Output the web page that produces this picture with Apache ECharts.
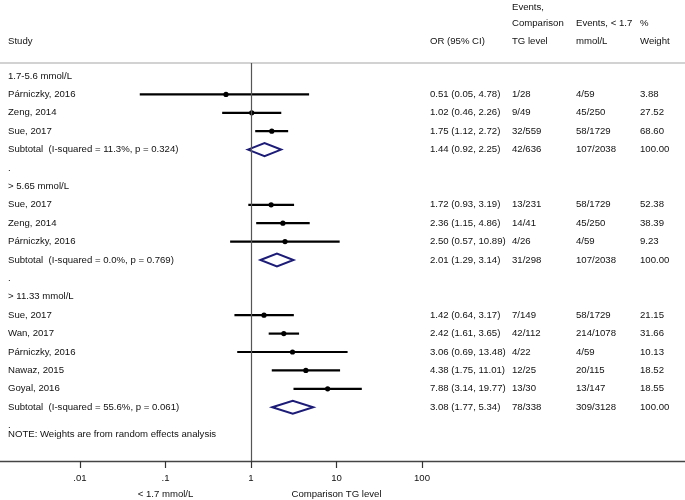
<!DOCTYPE html>
<html>
<head>
<meta charset="utf-8">
<script src="https://cdn.jsdelivr.net/npm/echarts@6/dist/echarts.min.js"></script>
<style>
  html, body { margin: 0; padding: 0; background: #fff; }
  #main { width: 685px; height: 500px; }
</style>
</head>
<body>
<div id="main"></div>
<script>
// subgroups
const groupLabels = ['1.7-5.6 mmol/L', '> 5.65 mmol/L', '> 11.33 mmol/L'];

// individual studies
const studyNames = ['Párniczky, 2016', 'Zeng, 2014', 'Sue, 2017',
                    'Sue, 2017', 'Zeng, 2014', 'Párniczky, 2016',
                    'Sue, 2017', 'Wan, 2017', 'Párniczky, 2016', 'Nawaz, 2015', 'Goyal, 2016'];
const studyGroup = [0, 0, 0, 1, 1, 1, 2, 2, 2, 2, 2];
const studyOR = [0.51, 1.02, 1.75, 1.72, 2.36, 2.50, 1.42, 2.42, 3.06, 4.38, 7.88];
const studyLo = [0.05, 0.46, 1.12, 0.93, 1.15, 0.57, 0.64, 1.61, 0.69, 1.75, 3.14];
const studyHi = [4.78, 2.26, 2.72, 3.19, 4.86, 10.89, 3.17, 3.65, 13.48, 11.01, 19.77];
const eventsComp = ['1/28', '9/49', '32/559', '13/231', '14/41', '4/26', '7/149', '42/112', '4/22', '12/25', '13/30'];
const eventsRef = ['4/59', '45/250', '58/1729', '58/1729', '45/250', '4/59', '58/1729', '214/1078', '4/59', '20/115', '13/147'];
const weights = ['3.88', '27.52', '68.60', '52.38', '38.39', '9.23', '21.15', '31.66', '10.13', '18.52', '18.55'];

// subtotals
const subLabels = ['Subtotal  (I-squared = 11.3%, p = 0.324)',
                   'Subtotal  (I-squared = 0.0%, p = 0.769)',
                   'Subtotal  (I-squared = 55.6%, p = 0.061)'];
const subOR = [1.44, 2.01, 3.08];
const subLo = [0.92, 1.29, 1.77];
const subHi = [2.25, 3.14, 5.34];
const subComp = ['42/636', '31/298', '78/338'];
const subRef = ['107/2038', '107/2038', '309/3128'];
const subWeight = ['100.00', '100.00', '100.00'];

// x axis
const tickValues = [0.01, 0.1, 1, 10, 100];
const tickLabels = ['.01', '.1', '1', '10', '100'];
const xTitles = ['< 1.7 mmol/L', 'Comparison TG level'];
const xTitleAt = [0.1, 10];

const headerLines = [
  ['', '', 'Events,', '', ''],
  ['', '', 'Comparison', 'Events, < 1.7', '%'],
  ['Study', 'OR (95% CI)', 'TG level', 'mmol/L', 'Weight']
];
const note = 'NOTE: Weights are from random effects analysis';

// layout (pixels)
const rowTop = 76, pitch = 18.4, plotTop = 63, plotBottom = 461;
const colX = [8, 430, 512, 576, 640];
const headerRows = [-3.72, -2.86, -1.9];
const font = 'Liberation Sans, Arial, sans-serif';
const fs = 9.6;
const ink = '#111';

function fmtCI(o, l, h) {
  return o.toFixed(2) + ' (' + l.toFixed(2) + ', ' + h.toFixed(2) + ')';
}

// build rows
let marks = [];   // [or, lo, hi, row, isSubtotal]
let texts = [];   // [x, row, text]
let row = 0;
for (let g = 0; g < groupLabels.length; g++) {
  texts.push([colX[0], row, groupLabels[g]]);
  row++;
  for (let i = 0; i < studyNames.length; i++) {
    if (studyGroup[i] !== g) continue;
    marks.push([studyOR[i], studyLo[i], studyHi[i], row, 0]);
    texts.push([colX[0], row, studyNames[i]]);
    texts.push([colX[1], row, fmtCI(studyOR[i], studyLo[i], studyHi[i])]);
    texts.push([colX[2], row, eventsComp[i]]);
    texts.push([colX[3], row, eventsRef[i]]);
    texts.push([colX[4], row, weights[i]]);
    row++;
  }
  marks.push([subOR[g], subLo[g], subHi[g], row, 1]);
  texts.push([colX[0], row, subLabels[g]]);
  texts.push([colX[1], row, fmtCI(subOR[g], subLo[g], subHi[g])]);
  texts.push([colX[2], row, subComp[g]]);
  texts.push([colX[3], row, subRef[g]]);
  texts.push([colX[4], row, subWeight[g]]);
  row++;
  texts.push([colX[0], row, '.']);
  row++;
}
texts.push([colX[0], row - 0.54, note]);
headerLines.forEach(function (line, k) {
  line.forEach(function (t, c) {
    if (t) texts.push([colX[c], headerRows[k], t]);
  });
});

const yMin = (plotTop - rowTop) / pitch;
const yMax = (plotBottom - rowTop) / pitch;
const bottomTitleRow = (494 - rowTop) / pitch;

var myChart = echarts.init(document.getElementById('main'));

var option = {
  animation: false,
  backgroundColor: '#fff',
  textStyle: { fontFamily: font },
  grid: [
    { left: 80, right: 263, top: plotTop, bottom: 500 - plotBottom },
    { left: 0, right: 0, top: plotTop, bottom: 500 - plotBottom }
  ],
  xAxis: [
    {
      type: 'log', logBase: 10, min: 0.01, max: 100, gridIndex: 0,
      axisLine: { show: false, onZero: false },
      axisTick: { show: true, length: 7, lineStyle: { color: '#333', width: 1.2 } },
      splitLine: { show: false },
      axisLabel: {
        margin: 12, color: ink, fontSize: fs, fontFamily: font,
        formatter: function (v) {
          let k = tickValues.findIndex(function (t) { return Math.abs(Math.log10(t) - Math.log10(v)) < 1e-6; });
          return k >= 0 ? tickLabels[k] : '';
        }
      }
    },
    {
      type: 'value', min: 0, max: 685, gridIndex: 1, position: 'bottom',
      axisLine: { show: true, onZero: false, lineStyle: { color: '#444', width: 1.4 } },
      axisTick: { show: false }, axisLabel: { show: false }, splitLine: { show: false }
    },
    {
      type: 'value', min: 0, max: 685, gridIndex: 1, position: 'top',
      axisLine: { show: true, onZero: false, lineStyle: { color: '#d2d2d2', width: 2 } },
      axisTick: { show: false }, axisLabel: { show: false }, splitLine: { show: false }
    }
  ],
  yAxis: [
    { type: 'value', inverse: true, min: yMin, max: yMax, gridIndex: 0, show: false },
    { type: 'value', inverse: true, min: yMin, max: yMax, gridIndex: 1, show: false }
  ],
  series: [
    {
      type: 'custom',
      xAxisIndex: 0, yAxisIndex: 0,
      clip: false,
      data: marks,
      renderItem: function (params, api) {
        let o = api.coord([api.value(0), api.value(3)]);
        let l = api.coord([api.value(1), api.value(3)]);
        let h = api.coord([api.value(2), api.value(3)]);
        if (api.value(4) === 1) {
          let hh = 6.5;
          return {
            type: 'polygon',
            shape: { points: [[l[0], o[1]], [o[0], o[1] - hh], [h[0], o[1]], [o[0], o[1] + hh]] },
            style: { fill: 'none', stroke: '#1c1c78', lineWidth: 2 }
          };
        }
        return {
          type: 'group',
          children: [
            { type: 'line', shape: { x1: l[0], y1: l[1], x2: h[0], y2: h[1] },
              style: { stroke: '#000', lineWidth: 2.2 } },
            { type: 'circle', shape: { cx: o[0], cy: o[1], r: 2.6 },
              style: { fill: '#000' } }
          ]
        };
      },
      markLine: {
        silent: true, symbol: 'none', animation: false,
        label: { show: false },
        lineStyle: { color: '#555', width: 1.2, type: 'solid' },
        data: [{ xAxis: 1 }]
      }
    },
    {
      type: 'custom',
      xAxisIndex: 1, yAxisIndex: 1,
      clip: false,
      data: texts,
      renderItem: function (params, api) {
        let p = api.coord([api.value(0), api.value(1)]);
        return {
          type: 'text', x: p[0], y: p[1],
          style: {
            text: texts[params.dataIndex][2],
            fill: ink, fontSize: fs, fontFamily: font,
            align: 'left', verticalAlign: 'middle'
          }
        };
      }
    },
    {
      type: 'custom',
      xAxisIndex: 0, yAxisIndex: 0,
      clip: false,
      data: xTitles.map(function (t, i) { return [xTitleAt[i], bottomTitleRow]; }),
      renderItem: function (params, api) {
        let p = api.coord([api.value(0), api.value(1)]);
        return {
          type: 'text', x: p[0], y: p[1],
          style: {
            text: xTitles[params.dataIndex],
            fill: ink, fontSize: fs, fontFamily: font,
            align: 'center', verticalAlign: 'middle'
          }
        };
      }
    }
  ]
};

myChart.setOption(option);
</script>
</body>
</html>
